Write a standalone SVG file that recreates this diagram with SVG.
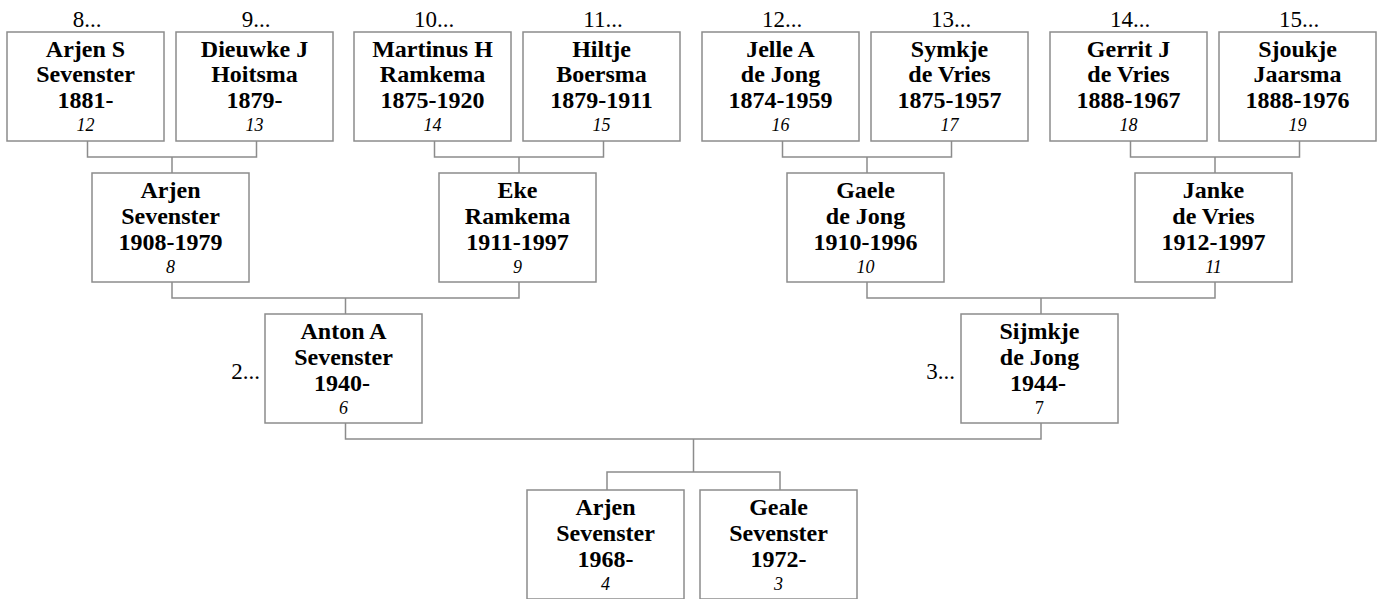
<svg xmlns="http://www.w3.org/2000/svg" width="1382" height="599" viewBox="0 0 1382 599">
<style>
.box{fill:#fff;stroke:#8c8c8c;stroke-width:1.5}
.con{fill:none;stroke:#8c8c8c;stroke-width:1.5}
text{font-family:"Liberation Serif","Times New Roman",serif;fill:#000;text-anchor:middle}
.b{font-weight:bold;font-size:24px}
.i{font-style:italic;font-size:18px}
.u{font-size:18px}
.l{font-size:23px}
.le{font-size:23px;text-anchor:end}
</style>
<rect width="1382" height="599" fill="#fff"/>
<g id="connectors">
<path class="con" d="M87.5 141V157H256.5V141M172 157V173"/>
<path class="con" d="M434.5 141V157H603.5V141M519 157V173"/>
<path class="con" d="M782.5 141V157H951.5V141M867 157V173"/>
<path class="con" d="M1130.5 141V157H1299.5V141M1215 157V173"/>
<path class="con" d="M172 282V298H519V282M345.5 298V314"/>
<path class="con" d="M867 282V298H1215V282M1041 298V314"/>
<path class="con" d="M345.5 423V439H1041V423M693.5 439V472M607 490V472H780V490"/>
</g>
<g id="n12"><rect class="box" x="7" y="32" width="157" height="109"/><text class="l" x="87" y="27">8...</text><text class="b" x="85.5" y="57">Arjen S</text><text class="b" x="85.5" y="82">Sevenster</text><text class="b" x="85.5" y="108">1881-</text><text class="i" x="85.5" y="131">12</text></g>
<g id="n13"><rect class="box" x="176" y="32" width="157" height="109"/><text class="l" x="256" y="27">9...</text><text class="b" x="254.5" y="57">Dieuwke J</text><text class="b" x="254.5" y="82">Hoitsma</text><text class="b" x="254.5" y="108">1879-</text><text class="i" x="254.5" y="131">13</text></g>
<g id="n14"><rect class="box" x="354" y="32" width="157" height="109"/><text class="l" x="434" y="27">10...</text><text class="b" x="432.5" y="57">Martinus H</text><text class="b" x="432.5" y="82">Ramkema</text><text class="b" x="432.5" y="108">1875-1920</text><text class="i" x="432.5" y="131">14</text></g>
<g id="n15"><rect class="box" x="523" y="32" width="157" height="109"/><text class="l" x="603" y="27">11...</text><text class="b" x="601.5" y="57">Hiltje</text><text class="b" x="601.5" y="82">Boersma</text><text class="b" x="601.5" y="108">1879-1911</text><text class="i" x="601.5" y="131">15</text></g>
<g id="n16"><rect class="box" x="702" y="32" width="157" height="109"/><text class="l" x="782" y="27">12...</text><text class="b" x="780.5" y="57">Jelle A</text><text class="b" x="780.5" y="82">de Jong</text><text class="b" x="780.5" y="108">1874-1959</text><text class="i" x="780.5" y="131">16</text></g>
<g id="n17"><rect class="box" x="871" y="32" width="157" height="109"/><text class="l" x="951" y="27">13...</text><text class="b" x="949.5" y="57">Symkje</text><text class="b" x="949.5" y="82">de Vries</text><text class="b" x="949.5" y="108">1875-1957</text><text class="i" x="949.5" y="131">17</text></g>
<g id="n18"><rect class="box" x="1050" y="32" width="157" height="109"/><text class="l" x="1130" y="27">14...</text><text class="b" x="1128.5" y="57">Gerrit J</text><text class="b" x="1128.5" y="82">de Vries</text><text class="b" x="1128.5" y="108">1888-1967</text><text class="i" x="1128.5" y="131">18</text></g>
<g id="n19"><rect class="box" x="1219" y="32" width="157" height="109"/><text class="l" x="1299" y="27">15...</text><text class="b" x="1297.5" y="57">Sjoukje</text><text class="b" x="1297.5" y="82">Jaarsma</text><text class="b" x="1297.5" y="108">1888-1976</text><text class="i" x="1297.5" y="131">19</text></g>
<g id="n8"><rect class="box" x="92" y="173" width="157" height="109"/><text class="b" x="170.5" y="198">Arjen</text><text class="b" x="170.5" y="224">Sevenster</text><text class="b" x="170.5" y="250">1908-1979</text><text class="i" x="170.5" y="273">8</text></g>
<g id="n9"><rect class="box" x="439" y="173" width="157" height="109"/><text class="b" x="517.5" y="198">Eke</text><text class="b" x="517.5" y="224">Ramkema</text><text class="b" x="517.5" y="250">1911-1997</text><text class="i" x="517.5" y="273">9</text></g>
<g id="n10"><rect class="box" x="787" y="173" width="157" height="109"/><text class="b" x="865.5" y="198">Gaele</text><text class="b" x="865.5" y="224">de Jong</text><text class="b" x="865.5" y="250">1910-1996</text><text class="i" x="865.5" y="273">10</text></g>
<g id="n11"><rect class="box" x="1135" y="173" width="157" height="109"/><text class="b" x="1213.5" y="198">Janke</text><text class="b" x="1213.5" y="224">de Vries</text><text class="b" x="1213.5" y="250">1912-1997</text><text class="i" x="1213.5" y="273">11</text></g>
<g id="n6"><rect class="box" x="265" y="314" width="157" height="109"/><text class="b" x="343.5" y="339">Anton A</text><text class="b" x="343.5" y="365">Sevenster</text><text class="b" x="342" y="391">1940-</text><text class="i" x="343.5" y="414">6</text><text class="le" x="260" y="379">2...</text></g>
<g id="n7"><rect class="box" x="961" y="314" width="157" height="109"/><text class="b" x="1039.5" y="339">Sijmkje</text><text class="b" x="1039.5" y="365">de Jong</text><text class="b" x="1038" y="391">1944-</text><text class="u" x="1039.5" y="414">7</text><text class="le" x="955" y="379">3...</text></g>
<g id="n4"><rect class="box" x="527" y="490" width="157" height="109"/><text class="b" x="605.5" y="515">Arjen</text><text class="b" x="605.5" y="541">Sevenster</text><text class="b" x="605.5" y="567">1968-</text><text class="i" x="605.5" y="590">4</text></g>
<g id="n3"><rect class="box" x="700" y="490" width="157" height="109"/><text class="b" x="778.5" y="515">Geale</text><text class="b" x="778.5" y="541">Sevenster</text><text class="b" x="778.5" y="567">1972-</text><text class="i" x="778.5" y="590">3</text></g>
</svg>
